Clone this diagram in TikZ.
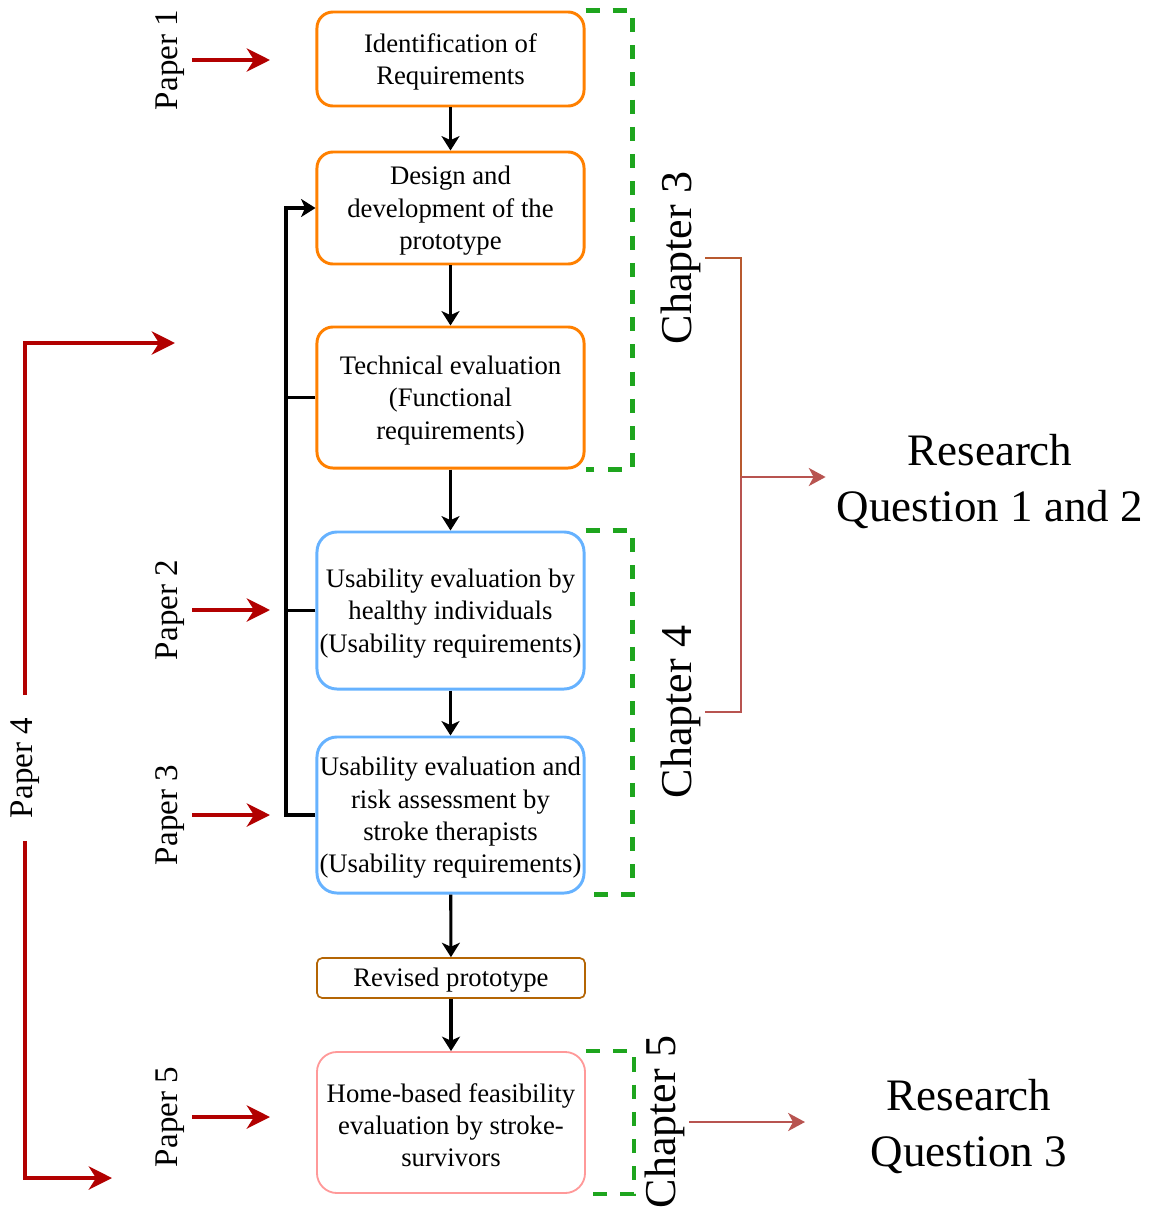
\documentclass[tikz,border=0pt]{standalone}
\usepackage{fontspec}
\setmainfont{Liberation Serif}
\usetikzlibrary{arrows.meta}
\definecolor{stageorange}{HTML}{FF8000}
\definecolor{stageblue}{HTML}{66B2FF}
\definecolor{stagebrown}{HTML}{B46504}
\definecolor{stagepink}{HTML}{FF9999}
\definecolor{chapgreen}{HTML}{1EA51E}
\definecolor{paperred}{HTML}{B20000}
\definecolor{rqred}{HTML}{B85450}
\definecolor{rqbrown}{HTML}{B8592F}
% extra room above the first line of a block of text
\newcommand\stagegap{\rule{0pt}{0.61cm}}
\newcommand\rqgap{\rule{0pt}{1.0cm}}
\begin{document}
\begin{tikzpicture}[x=0.025cm,y=-0.025cm,
  stage/.style={draw, rounded corners=0.4cm, line width=2.1pt, minimum width=6.675cm,
    inner sep=1pt, align=center, font=\fontsize{19}{23}\selectfont},
  orangestage/.style={stage, draw=stageorange},
  bluestage/.style={stage, draw=stageblue, rounded corners=0.5cm},
  pinkstage/.style={stage, draw=stagepink, line width=1.3pt, rounded corners=0.5cm},
  revstage/.style={stage, draw=stagebrown, line width=1.2pt, rounded corners=0.13cm},
  flow/.style={line width=2.2pt, -{Stealth[length=0.36cm,width=0.45cm,inset=0.1cm]}},
  loopline/.style={line width=2.2pt},
  chapbracket/.style={draw=chapgreen, line width=3pt, dash pattern=on 0.35cm off 0.33cm},
  chaplabel/.style={rotate=90, inner sep=0.1cm, font=\fontsize{31.3}{36}\selectfont},
  paperlabel/.style={rotate=90, inner sep=0.175cm, font=\fontsize{23.5}{28}\selectfont},
  paperarrow/.style={draw=paperred, line width=2.8pt,
    -{Stealth[length=0.58cm,width=0.58cm,inset=0.18cm]}},
  rqlabel/.style={align=center, inner sep=0.275cm, font=\fontsize{32}{39.8}\selectfont},
  rqline/.style={line width=1.9pt},
  rqarrow/.style={draw=rqred, line width=1.9pt,
    -{Stealth[length=0.42cm,width=0.45cm,inset=0.12cm]}}
]
\useasboundingbox (0,0) rectangle (1156,1212);

% process stages
\node[orangestage, minimum height=2.35cm] (s1) at (450.5,59) {\stagegap Identification of\\Requirements};
\node[orangestage, minimum height=2.8cm] (s2) at (450.5,208) {\stagegap Design and\\development of the\\prototype};
\node[orangestage, minimum height=3.525cm] (s3) at (450.5,397.5) {\stagegap Technical evaluation\\(Functional\\requirements)};
\node[bluestage, minimum height=3.925cm] (s4) at (450.5,610.5) {\stagegap Usability evaluation by\\healthy individuals\\(Usability requirements)};
\node[bluestage, minimum height=3.9cm] (s5) at (450.5,815) {\stagegap Usability evaluation and\\risk assessment by\\stroke therapists\\(Usability requirements)};
\node[revstage, minimum height=1.0cm, minimum width=6.7cm] (s6) at (451,978) {\rule{0pt}{0.55cm}Revised prototype};
\node[pinkstage, minimum height=3.525cm, minimum width=6.7cm] (s7) at (451,1122.5) {\stagegap Home-based feasibility\\evaluation by stroke-\\survivors};

% main flow
\draw[flow] (s1) -- (s2);
\draw[flow] (s2) -- (s3);
\draw[flow] (s3) -- (s4);
\draw[flow] (s4) -- (s5);
\draw[flow] (s5) -- (s6);
\draw[flow] (s6) -- (s7);

% feedback loop into the design stage
\coordinate (fbx) at (286,0);
\draw[flow] (s5.west) -- (s5.west -| fbx) -- (s2.west -| fbx) -- (s2.west);
\draw[loopline] (s3.west) -- (s3.west -| fbx);
\draw[loopline] (s4.west) -- (s4.west -| fbx);

% chapter brackets
\draw[chapbracket] (s1.north east) -- ++(47,0) |- (s3.south east);
\draw[chapbracket] (s4.north east) -- ++(47,0) |- (s5.south east);
\draw[chapbracket] (s7.north east) -- ++(48,0) |- (s7.south east);

\node[chaplabel] (c3) at (681,258) {Chapter 3};
\node[chaplabel] (c4) at (681,712) {Chapter 4};
\node[chaplabel] (c5) at (665,1122) {Chapter 5};

% research questions
\node[rqlabel] (rq12) at (990,477) {\rqgap Research\\Question 1 and 2};
\node[rqlabel] (rq3) at (969,1122) {\rqgap Research\\Question 3};
\coordinate (jx) at (741,0);
\coordinate (rq3in) at (805,1122);
\draw[rqline, draw=rqbrown] (c3.south) -| (jx |- rq12.west);
\draw[rqline, draw=rqred] (c4.south) -| (jx |- rq12.west);
\draw[rqarrow] (jx |- rq12.west) -- (rq12.west);
\draw[rqarrow] (c5.south) -- (rq3in);

% papers
\node[paperlabel, anchor=south] (p1) at (192,60) {Paper 1};
\node[paperlabel, anchor=south] (p2) at (192,610) {Paper 2};
\node[paperlabel, anchor=south] (p3) at (192,815) {Paper 3};
\node[paperlabel, anchor=south] (p5) at (192,1117) {Paper 5};
\coordinate (t1) at (270,60);
\coordinate (t2) at (270,610);
\coordinate (t3) at (270,815);
\coordinate (t5) at (270,1117);
\draw[paperarrow] (p1.south) -- (t1);
\draw[paperarrow] (p2.south) -- (t2);
\draw[paperarrow] (p3.south) -- (t3);
\draw[paperarrow] (p5.south) -- (t5);

\node[paperlabel, inner sep=0pt, minimum width=3.625cm] (p4) at (25,768) {Paper 4};
\coordinate (t4a) at (175,343);
\coordinate (t4b) at (112,1178);
\draw[paperarrow] (p4.east) |- (t4a);
\draw[paperarrow] (p4.west) |- (t4b);
\end{tikzpicture}
\end{document}
